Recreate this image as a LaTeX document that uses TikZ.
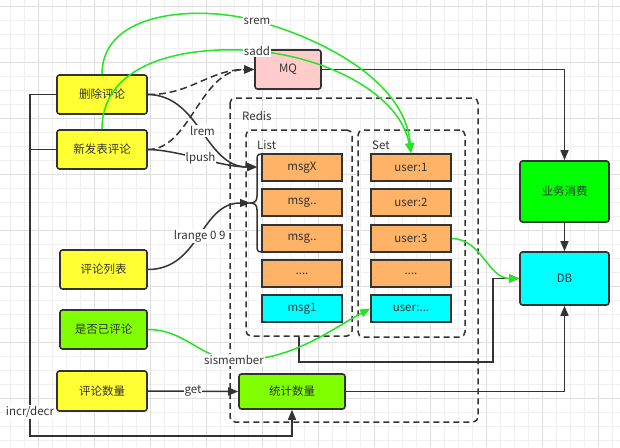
\documentclass[tikz,border=0pt]{standalone}
\usepackage{fontspec}
\setmainfont{Noto Sans CJK SC}
\usetikzlibrary{arrows.meta,calc}
\definecolor{ln}{HTML}{333333}
\definecolor{yel}{HTML}{FFFF33}
\definecolor{chart}{HTML}{80FF00}
\definecolor{orng}{HTML}{FFB366}
\definecolor{cyn}{HTML}{00FFFF}
\definecolor{grn}{HTML}{00FF00}
\definecolor{pnk}{HTML}{FFCCCC}
\definecolor{gline}{RGB}{36,228,36}
\definecolor{gminor}{HTML}{F0F0F0}
\definecolor{gmajor}{HTML}{DEDEDE}
\tikzset{
  box/.style={draw=ln, line width=1.6pt, rounded corners=2.5pt, inner sep=0pt, text=ln},
  item/.style={draw=ln, line width=1.6pt, inner sep=0pt, minimum width=80pt, minimum height=27pt, fill=orng, text=ln},
  cont/.style={draw=ln, line width=1.5pt, dash pattern=on 6pt off 4pt, rounded corners=5pt},
  conn/.style={draw=ln, line width=1.5pt},
  tipk/.style={-{Triangle[length=10pt,width=8pt]}},
  gconn/.style={draw=gline, line width=1.5pt, -{Triangle[length=10pt,width=8pt]}},
  lbl/.style={fill=white, inner sep=1pt, text=ln},
  caplbl/.style={anchor=west, inner sep=0pt, text=ln}
}
\begin{document}
\begin{tikzpicture}[x=1pt,y=-1pt,font=\fontsize{11.5}{13}\selectfont]
\useasboundingbox (0,0) rectangle (620,447);
\fill[white] (0,0) rectangle (620,447);
% grid
\foreach \x in {10,24,...,620} \draw[gminor,line width=0.6pt] (\x,0) -- (\x,447);
\foreach \y in {6,20,...,447} \draw[gminor,line width=0.6pt] (0,\y) -- (620,\y);
\foreach \x in {38,94,...,620} \draw[gmajor,line width=0.7pt] (\x,0) -- (\x,447);
\foreach \y in {6,62,...,447} \draw[gmajor,line width=0.7pt] (0,\y) -- (620,\y);

% containers
\draw[cont] (230,98) rectangle (478,422);
\node[caplbl] (redislbl) at (242,116) {Redis};
\node[cont, minimum width=106pt, minimum height=206pt, inner sep=0pt] (listc) at (299,233) {};
\node[cont, minimum width=107pt, minimum height=207pt, inner sep=0pt] (setc) at (411.5,233.5) {};
\node[caplbl] (listlbl) at (257,145) {List};
\node[caplbl] (setlbl) at (372,145) {Set};

% list items
\node[item] (m1) at (302,167.5) {msgX};
\node[item] (m2) at (302,202.5) {msg..};
\node[item] (m3) at (302,238.5) {msg..};
\node[item] (m4) at (302,273.5) {....};
\node[item, fill=cyn] (m5) at (302,308.5) {msg1};
% set items
\node[item] (u1) at (411,167.5) {user:1};
\node[item] (u2) at (411,202.5) {user:2};
\node[item] (u3) at (411,238.5) {user:3};
\node[item] (u4) at (411,273.5) {....};
\node[item, fill=cyn] (u5) at (411,308.5) {user:...};

% brace
\coordinate (bx) at (257,167);
\coordinate (btip) at (250,203);
\draw[conn] (262,154) .. controls (257,154) and (257,156) .. (257,161) -- (257,196)
  .. controls (257,201) and (255,203) .. (btip) .. controls (255,203) and (257,205) .. (257,210)
  -- (257,245) .. controls (257,250) and (257,252) .. (262,252);

% left nodes
\node[box, fill=yel, minimum width=90pt, minimum height=39pt] (del) at (102,94.5) {删除评论};
\node[box, fill=yel, minimum width=90pt, minimum height=39pt] (new) at (102,149.5) {新发表评论};
\node[box, fill=yel, minimum width=87pt, minimum height=39pt] (lst) at (103.5,269.5) {评论列表};
\node[box, fill=chart, minimum width=87pt, minimum height=39pt] (has) at (103.5,329.5) {是否已评论};
\node[box, fill=yel, minimum width=90pt, minimum height=40pt] (cnt) at (102,391) {评论数量};
\node[box, fill=chart, minimum width=106pt, minimum height=35pt] (stat) at (292,391.5) {统计数量};
\node[box, fill=pnk, minimum width=66pt, minimum height=39pt] (mq) at (288,69.5) {MQ};
\node[box, fill=grn, minimum width=89pt, minimum height=61pt] (biz) at (564.5,191.5) {业务消费};
\node[box, fill=cyn, minimum width=89pt, minimum height=53pt] (db) at (564.5,278.5) {DB};

% right side connectors
\draw[conn,tipk] (mq.east) -| (biz.north);
\draw[conn,tipk] (biz.south) -- (db.north);
\draw[conn,tipk] (stat.east) -| (db.south);
\coordinate (b1) at (493,362);
\draw[conn,tipk] (listc.south) |- (b1) |- (db.west);
\draw[gconn] (u3.east) .. controls (482,239) and (488,278.5) .. (db.west);

% left bus
\coordinate (busT) at (30,94.5);
\coordinate (busB) at (30,436);
\draw[conn,tipk] (del.west) -- (busT) -- node[pos=0.93,lbl]{incr/decr} (busB) -| (stat.south);
\draw[conn] (new.west) -- (new.west -| busT);

% get
\draw[conn,tipk] (cnt.east) -- node[lbl]{get} (stat.west);

% dashed to MQ
\draw[conn,tipk,dash pattern=on 7pt off 4pt] (del.east) .. controls (190,95) and (210,69.5) .. (mq.west);
\draw[conn,tipk,dash pattern=on 7pt off 4pt] (new.east) .. controls (190,150) and (200,69.5) .. (mq.west);

% lrem / lpush / lrange
\draw[conn,tipk] (del.east) .. controls (200,95) and (205,167) .. node[lbl,pos=0.5]{lrem} (bx);
\draw[conn,tipk] (new.east) .. controls (180,150) and (220,167) .. node[lbl,pos=0.5]{lpush} (bx);
\draw[conn,tipk] (lst.east) .. controls (200,269.5) and (200,203) .. node[lbl,pos=0.5]{lrange 0 9} (btip);

% green set operations
\draw[gconn] (del.north) .. controls (102,10) and (200,5) .. (257,21)
  .. controls (320,38) and (405,80) .. (u1.north);
\node[lbl] (sremlbl) at (257,21) {srem};
\draw[gconn] (new.north) .. controls (102,60) and (190,45) .. (257,51)
  .. controls (330,58) and (400,95) .. (u1.north);
\node[lbl] (saddlbl) at (257,51) {sadd};
\draw[gconn] (has.east) .. controls (185,329.5) and (200,358) .. (234,360)
  .. controls (290,362) and (330,330) .. (u5.west);
\node[lbl] (sislbl) at (234,360) {sismember};
\end{tikzpicture}
\end{document}
